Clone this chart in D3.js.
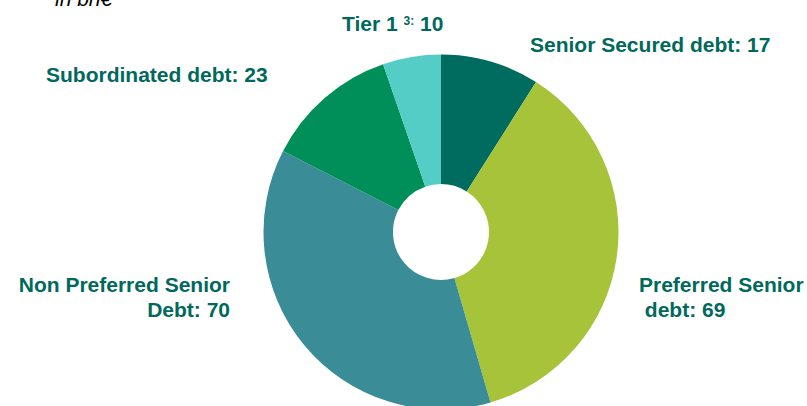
<!DOCTYPE html>
<html><head><meta charset="utf-8">
<script src="https://cdn.jsdelivr.net/npm/d3@7/dist/d3.min.js"></script>
<style>html,body{margin:0;padding:0;background:#fff;}svg{display:block;}</style>
</head><body>
<script>
const categories = ["Senior Secured debt", "Preferred Senior debt", "Non Preferred Senior Debt", "Subordinated debt", "Tier 1"];
const values = [17, 69, 70, 23, 10];
const colors = ["#006b5f", "#a6c33a", "#3a8c97", "#008f59", "#53cdc6"];

const W = 807, H = 406;
const svg = d3.select("body").append("svg").attr("width", W).attr("height", H);
const cx = 441, cy = 232, R = 177.5, r0 = 48;

const pie = d3.pie().sort(null).value(d => d)(values);
const arc = d3.arc().innerRadius(r0).outerRadius(R);
const g = svg.append("g").attr("transform", `translate(${cx},${cy})`);
g.selectAll("path").data(pie).join("path")
  .attr("d", arc).attr("fill", (d, i) => colors[i]);

svg.append("text").attr("x", 55).attr("y", 6)
  .attr("font-family", "Liberation Sans, Arial, sans-serif")
  .attr("font-style", "italic").attr("font-size", 21).attr("fill", "#000")
  .text("in bn€");

const tc = "#00695c";
const font = "Liberation Sans, Arial, sans-serif";
function label(x, y, anchor, lines) {
  const t = svg.append("text").attr("x", x).attr("y", y)
    .attr("text-anchor", anchor).attr("font-family", font)
    .attr("font-weight", "bold").attr("font-size", 21).attr("fill", tc);
  lines.forEach((l, i) => {
    t.append("tspan").attr("x", x).attr("dy", i === 0 ? 0 : 25).attr("xml:space", "preserve").text(l);
  });
  return t;
}
// Tier 1 with superscript
const tt = svg.append("text").attr("x", 342).attr("y", 31)
  .attr("font-family", font).attr("font-weight", "bold").attr("font-size", 21).attr("fill", tc);
tt.append("tspan").text(categories[4] + " ");
tt.append("tspan").attr("font-size", 12).attr("dy", -6).text("3:");
tt.append("tspan").attr("dy", 6).text(" " + values[4]);

label(530, 52, "start", [categories[0] + ": " + values[0]]);
label(46, 82, "start", [categories[3] + ": " + values[3]]);
label(230, 292, "end", ["Non Preferred Senior", "Debt: " + values[2]]);
label(639, 292, "start", ["Preferred Senior", "\u00a0debt: " + values[1]]);
</script>
</body></html>
